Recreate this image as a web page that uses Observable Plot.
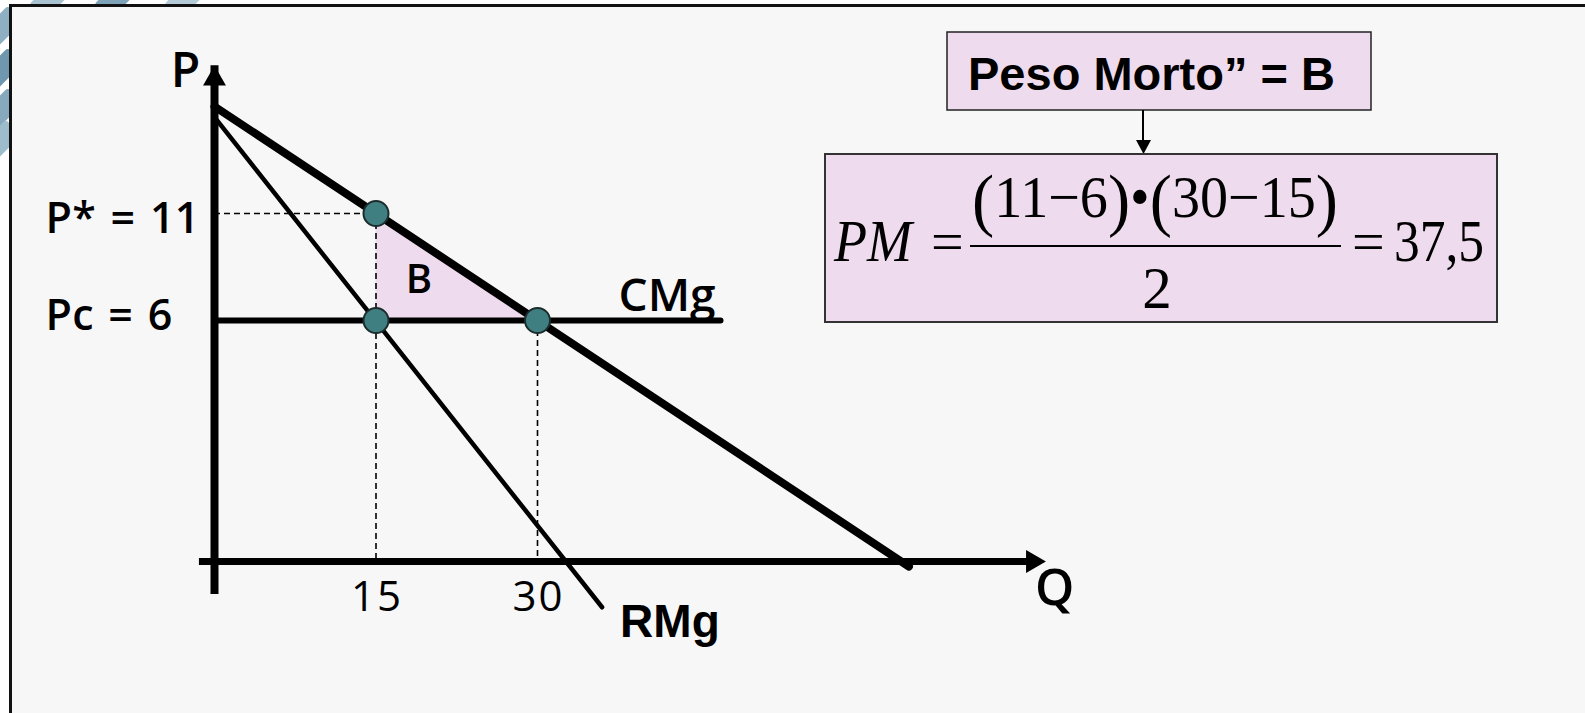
<!DOCTYPE html>
<html><head><meta charset="utf-8">
<script src="https://cdn.jsdelivr.net/npm/d3@7"></script>
<script src="https://cdn.jsdelivr.net/npm/@observablehq/plot@0.6"></script>
<style>
body{margin:0;background:#fff;}
#wrap{position:relative;width:1585px;height:713px;overflow:hidden;}
.tile{position:absolute;width:44px;height:22px;border-radius:4px;transform:rotate(-45deg);}
#frame{position:absolute;left:9px;top:4px;width:1600px;height:720px;border-left:3px solid #111;border-top:3px solid #111;background:#f7f7f7;}
#chart{position:absolute;left:0;top:0;}
.plabel text{letter-spacing:0.3px;word-spacing:3px;}
.qlabel text{letter-spacing:2px;}
</style></head><body>
<div id="wrap">
  <div class="tile" style="left:-22px;top:18px;background:#8fb0c2"></div>
  <div class="tile" style="left:-22px;top:60px;background:#6f97ad"></div>
  <div class="tile" style="left:-22px;top:100px;background:#86a9bd"></div>
  <div class="tile" style="left:-24px;top:132px;background:#9dbccc"></div>
  <div class="tile" style="left:30px;top:-14px;background:#a9c3d1"></div>
  <div class="tile" style="left:95px;top:-14px;background:#7ea3b8"></div>
  <div class="tile" style="left:165px;top:-14px;background:#b4cbd8"></div>
  <div id="frame"></div>
  <div id="chart"></div>
</div>
<script>
// ---- data (diagram is not drawn to scale) ----
const quantities = [15, 30];          // Q monopoly, Q competitive
const qtyLabels = ["15", "30"];
const prices = [11, 6];               // P*, Pc
const priceLabels = ["P* = 11", "Pc = 6"];
const demandQ = [0, 64.5];
const demandP = [16, -5.5];
const mrQ = [0, 36];
const mrP = [15.5, -7.4];
const cmgQ = [0, 47];
const cmgP = [6, 6];
const qAxisExtent = [-1.4, 77.2];     // Q axis from / to (arrow tip)
const pAxisExtent = [-6.15, 17.9];    // P axis from / to (arrow tip)
const qAxisAtP = -5.26;               // price level where the Q axis is drawn
const curveLabels = ["CMg", "RMg", "B"];
const axisLabels = ["P", "Q"];

// ---- derived tables ----
const demand = demandQ.map((q, i) => ({q, p: demandP[i]}));
const mr = mrQ.map((q, i) => ({q, p: mrP[i]}));
const cmg = cmgQ.map((q, i) => ({q, p: cmgP[i]}));
const pts = [
  {q: quantities[0], p: prices[0]},
  {q: quantities[0], p: prices[1]},
  {q: quantities[1], p: prices[1]}
];
const triangle = [
  {q: quantities[0], lo: prices[1], hi: prices[0]},
  {q: quantities[1], lo: prices[1], hi: prices[1]}
];
const vDash = [
  {q: quantities[0], p: prices[0]},
  {q: quantities[1], p: prices[1]}
];
const pTicks = prices.map((p, i) => ({q: 0, p, label: priceLabels[i]}));
const qTicks = quantities.map((q, i) => ({q, p: qAxisAtP, label: qtyLabels[i]}));
const centroid = {q: (quantities[0] * 2 + quantities[1]) / 3, p: (prices[0] + prices[1] * 2) / 3, label: curveLabels[2]};

const sans = "'Open Sans', sans-serif";
const dash = {stroke: "black", strokeWidth: 1.6, strokeDasharray: "6,4"};

const chart = Plot.plot({
  width: 1585, height: 713, margin: 0,
  x: {domain: [0, 30], range: [214, 537], axis: null},
  y: {domain: [6, 11], range: [320, 213], axis: null},
  style: {background: "transparent", overflow: "visible"},
  marks: [
    Plot.areaY(triangle, {x: "q", y1: "lo", y2: "hi", fill: "#eedbee"}),
    Plot.ruleY([pTicks[0]], {y: "p", x1: 0, x2: quantities[0], ...dash}),
    Plot.ruleX(vDash, {x: "q", y1: "p", y2: qAxisAtP, ...dash}),
    Plot.ruleX([0], {y1: pAxisExtent[0], y2: pAxisExtent[1], stroke: "black", strokeWidth: 8, insetTop: 14}),
    Plot.ruleY([qAxisAtP], {x1: qAxisExtent[0], x2: qAxisExtent[1], stroke: "black", strokeWidth: 7, insetRight: 14}),
    Plot.dot([{q: 0, p: pAxisExtent[1]}], {x: "q", y: "p", symbol: "triangle", r: 8.5, fill: "black", dy: 13}),
    Plot.dot([{q: qAxisExtent[1], p: qAxisAtP}], {x: "q", y: "p", symbol: "triangle", r: 8.5, fill: "black", rotate: 90, dx: -13}),
    Plot.line(cmg, {x: "q", y: "p", stroke: "black", strokeWidth: 6}),
    Plot.line(mr, {x: "q", y: "p", stroke: "black", strokeWidth: 4.5}),
    Plot.line(demand, {x: "q", y: "p", stroke: "black", strokeWidth: 8}),
    Plot.dot(pts, {x: "q", y: "p", r: 12.5, fill: "#3f7f81", stroke: "#1c2b2c", strokeWidth: 2}),
    // labels
    Plot.text([pTicks[0]], {x: "q", y: "p", text: "label", textAnchor: "start", lineAnchor: "bottom", dx: -169, dy: 19, fontFamily: sans, fontSize: 43, fontWeight: 600, fill: "black", className: "plabel"}),
    Plot.text([pTicks[1]], {x: "q", y: "p", text: "label", textAnchor: "start", lineAnchor: "bottom", dx: -169, dy: 9, fontFamily: sans, fontSize: 43, fontWeight: 600, fill: "black", className: "plabel"}),
    Plot.text(qTicks, {x: "q", y: "p", text: "label", lineAnchor: "bottom", dx: 1, dy: 50, fontFamily: sans, fontSize: 42, fontWeight: 500, fill: "black", className: "qlabel"}),
    Plot.text([{q: 0, p: pAxisExtent[1], label: axisLabels[0]}], {x: "q", y: "p", text: "label", lineAnchor: "bottom", dx: -29, dy: 21, fontFamily: sans, fontSize: 48, fontWeight: 600, fill: "black"}),
    Plot.text([{q: qAxisExtent[1], p: qAxisAtP, label: axisLabels[1]}], {x: "q", y: "p", text: "label", lineAnchor: "bottom", dx: 9, dy: 44, fontFamily: sans, fontSize: 50, fontWeight: 600, fill: "black"}),
    Plot.text([{...cmg[1], label: curveLabels[0]}], {x: "q", y: "p", text: "label", textAnchor: "end", lineAnchor: "bottom", dx: -5, dy: -10, fontFamily: sans, fontSize: 46, fontWeight: 600, fill: "black"}),
    Plot.text([{...mr[1], label: curveLabels[1]}], {x: "q", y: "p", text: "label", textAnchor: "start", lineAnchor: "bottom", dx: 18, dy: 30, fontFamily: "'Liberation Sans', Arial, sans-serif", fontSize: 46, fontWeight: 700, fill: "black"}),
    Plot.text([centroid], {x: "q", y: "p", text: "label", lineAnchor: "bottom", dx: -11, dy: 8, fontFamily: sans, fontSize: 40, fontWeight: 600, fill: "black"})
  ]
});
document.getElementById("chart").appendChild(chart);

// ---- annotation boxes ----
const fmt = v => String(v).replace(".", ",");
const pm = (prices[0] - prices[1]) * (quantities[1] - quantities[0]) / 2;
const svg = d3.select(chart);
const g = svg.append("g").attr("text-anchor", "start").attr("fill", "black");
const fill = "#eedbee";
g.append("rect").attr("x", 947).attr("y", 32).attr("width", 424).attr("height", 78)
  .attr("fill", fill).attr("stroke", "#222").attr("stroke-width", 1.5);
g.append("text").attr("x", 968).attr("y", 90).attr("text-anchor", "start")
  .attr("font-family", "'Liberation Sans', Arial, sans-serif").attr("font-weight", 700).attr("font-size", 47)
  .text("Peso Morto\u201D = " + curveLabels[2]);
g.append("line").attr("x1", 1143).attr("x2", 1143).attr("y1", 110).attr("y2", 142).attr("stroke", "black").attr("stroke-width", 2);
g.append("path").attr("d", "M1136,140L1151,140L1143.5,154Z").attr("fill", "black");
g.append("rect").attr("x", 825).attr("y", 154).attr("width", 672).attr("height", 168)
  .attr("fill", fill).attr("stroke", "#333").attr("stroke-width", 2);
const serif = "'Liberation Serif', 'Times New Roman', serif";
g.append("text").attr("x", 834).attr("y", 261).attr("text-anchor", "start").attr("font-family", serif).attr("font-style", "italic").attr("font-size", 59)
  .attr("textLength", 78).attr("lengthAdjust", "spacingAndGlyphs").text("PM");
g.append("text").attr("x", 931).attr("y", 261).attr("text-anchor", "start").attr("font-family", serif).attr("font-size", 58).text("=");
g.append("line").attr("x1", 970).attr("x2", 1341).attr("y1", 246).attr("y2", 246).attr("stroke", "black").attr("stroke-width", 2.2);
const num = g.append("text").attr("x", 972).attr("y", 217).attr("text-anchor", "start").attr("font-family", serif).attr("font-size", 59)
  .attr("textLength", 366).attr("lengthAdjust", "spacingAndGlyphs");
num.append("tspan").attr("font-size", 70).attr("dy", 6).text("(");
num.append("tspan").attr("dy", -6).text(`${prices[0]}\u2212${prices[1]}`);
num.append("tspan").attr("font-size", 70).attr("dy", 6).text(")");
num.append("tspan").attr("dy", -6).text("\u2022");
num.append("tspan").attr("font-size", 70).attr("dy", 6).text("(");
num.append("tspan").attr("dy", -6).text(`${quantities[1]}\u2212${quantities[0]}`);
num.append("tspan").attr("font-size", 70).attr("dy", 6).text(")");
g.append("text").attr("x", 1157).attr("y", 308).attr("text-anchor", "middle").attr("font-family", serif).attr("font-size", 59).text("2");
g.append("text").attr("x", 1352).attr("y", 261).attr("text-anchor", "start").attr("font-family", serif).attr("font-size", 58).text("=");
g.append("text").attr("x", 1394).attr("y", 261).attr("text-anchor", "start").attr("font-family", serif).attr("font-size", 59)
  .attr("textLength", 90).attr("lengthAdjust", "spacingAndGlyphs").text(fmt(pm));
</script>
</body></html>
